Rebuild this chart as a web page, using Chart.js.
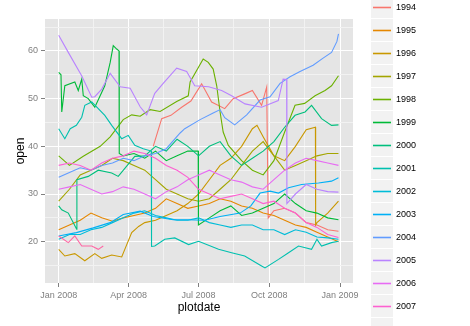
<!DOCTYPE html>
<html>
<head>
<meta charset="utf-8">
<script src="https://cdn.jsdelivr.net/npm/chart.js@4/dist/chart.umd.min.js"></script>
<style>
    html, body { margin: 0; padding: 0; background: #fff; overflow: hidden; }
    #chart { display: block; }
</style>
</head>
<body>
<canvas id="chart" width="470" height="326"></canvas>
<script>
// ==================== DATA ====================
// x values are day of year 2008 (0 = 1 Jan 2008)
const years = ['1994', '1995', '1996', '1997', '1998', '1999', '2000', '2001', '2002', '2003', '2004', '2005', '2006', '2007', '2008'];
const yearColors = ['#F8766D', '#E58700', '#C99800', '#A3A500', '#6BB100', '#00BA38', '#00BF7D', '#00C0AF', '#00BCD8', '#00B0F6', '#619CFF', '#B983FF', '#E76BF3', '#FD61D1', '#FF67A4'];

// two-week sampling for the lines that are hard to follow
const gridDays = [0, 14, 28, 42, 56, 70, 84, 98, 112, 126, 140, 154, 168, 182, 196, 210, 224, 238, 252, 266, 280, 294, 308, 322, 336, 350, 364];

const day1994 = [123, 134, 146, 160, 172, 186, 199, 216, 227, 242, 252, 264, 270.6, 272.6, 280, 294, 308, 322, 336, 350, 364];
const open1994 = [40, 45.8, 46.5, 48.2, 49.5, 53.1, 49.3, 47.9, 50, 51, 51.7, 48.6, 52.4, 25, 26.5, 27, 26, 24, 23.5, 22.5, 22.2];

const day1995 = gridDays;
const open1995 = [22.5, 23.5, 24.5, 26, 25, 24.3, 25, 25.5, 26, 27, 29, 28, 27, 27.5, 28, 29, 28.5, 27.5, 27, 26, 25.5, 24.5, 23.5, 23, 22, 21, 20];

const day1996 = [0, 8, 21, 34, 47, 56, 69, 82, 86, 95, 104, 112, 126, 140, 154, 168, 182, 196, 210, 224, 238, 252, 258, 266, 280, 294, 308, 322, 334, 334.3, 336, 350, 364];
const open1996 = [18.4, 17, 17.5, 16, 17.5, 16.5, 17.2, 16.8, 18.4, 21.9, 23.2, 24, 24.5, 25.5, 26.5, 28, 30, 33, 36, 37.5, 40, 43.7, 44.4, 42, 38, 37, 40, 43.5, 44, 23.5, 24, 26, 28.5];

const day1997 = gridDays;
const open1997 = [28.5, 31, 34, 35, 36, 37.5, 37, 36, 35, 33, 31, 30, 29, 28.5, 29, 31, 33, 36, 39, 41, 38, 35, 36, 37, 38, 38.5, 38.5];

const day1998 = [0, 14, 32, 54, 67, 84, 95, 106, 119, 132, 153.5, 168.6, 171, 188, 194.6, 201, 205.6, 210, 214, 220.7, 238, 252, 266, 280, 294, 307.5, 320, 333.5, 346.5, 355, 364];
const open1998 = [38, 36, 37.9, 40, 42, 45.6, 46.6, 46.3, 47.7, 47.3, 49.4, 50.6, 53.5, 58.3, 57.6, 56.2, 52.7, 47.2, 43, 40.2, 37, 35, 34, 37, 43, 48.6, 49, 50.6, 51.7, 52.7, 54.8];

const day1999 = [0, 3, 4, 8, 21, 25.5, 30, 32, 38.5, 47, 60, 67, 71, 75.5, 78.5, 78.8, 84, 98, 112, 126, 140, 154, 168, 181.5, 181.8, 196, 210, 224, 238, 252, 266, 280, 294, 308, 322, 336, 350, 364];
const open1999 = [55.5, 55, 47.2, 52.7, 53.5, 51.7, 54.1, 50.6, 50, 48.2, 52.7, 57.6, 61.1, 60.4, 60, 38.5, 38, 38.5, 37.5, 39, 37, 38, 39, 39, 23.5, 25, 26.5, 27.5, 25.5, 26, 27, 28, 30, 28, 26.5, 26, 25, 24.6];

const day2000 = [0, 4, 12.5, 23.4, 23.7, 38.5, 51.5, 69, 77.5, 99, 112, 126, 140, 154, 168, 182, 196, 210, 224, 238, 252, 266, 280, 294, 307.5, 320.5, 329, 342, 355, 364];
const open2000 = [27.5, 26.7, 26, 22.6, 33, 33.7, 35, 34.4, 33.7, 37.9, 38, 40, 39, 41.5, 40, 38, 40, 41, 38, 36, 37.5, 39, 41, 44, 46.5, 47.2, 48.6, 45.8, 44.4, 44.5];

const day2001 = [0, 8, 15, 23, 30, 34, 43, 51.5, 60, 69, 82, 90.5, 99, 110, 120.5, 120.8, 125, 138, 151, 169, 182, 208, 225, 242, 264, 268.4, 286, 299, 312, 329, 336, 342, 355, 364];
const open2001 = [43.7, 41.6, 43.7, 44.4, 46.1, 48.6, 49.3, 47.9, 46.5, 44.4, 41.6, 42.3, 40.2, 39.5, 39, 19, 19.1, 20.5, 20.8, 19.4, 20.1, 18.4, 17.7, 17, 14.9, 14.5, 16.3, 17.7, 19.1, 18.4, 20.5, 19.1, 19.8, 20.1];

const day2002 = gridDays;
const open2002 = [20.5, 21.5, 21.5, 22.5, 23, 24, 25, 26, 26.5, 25.5, 25, 24.5, 24.5, 25, 24, 23.5, 23, 23.5, 23.5, 22.5, 22.5, 21.5, 22.5, 22, 21, 20.8, 20.5];

const day2003 = [0, 23, 45, 67, 84, 106, 123, 149, 166.5, 190, 210, 236, 250, 262, 275, 286, 299, 316, 338, 355, 364];
const open2003 = [21.2, 21.9, 22.9, 24, 25.7, 26.4, 25.3, 24.6, 24.6, 24.5, 25.3, 26, 27.5, 30.2, 30.6, 30.2, 31.3, 32, 32.3, 32.7, 33.4];

const day2004 = [0, 14, 28, 42, 56, 70, 84, 98, 112, 126, 140, 158, 164, 184, 201, 210, 216, 229, 244.6, 262, 275, 288, 301, 314, 331, 344, 355, 362, 364];
const open2004 = [33.5, 34.5, 35.5, 35, 36, 36.5, 37.5, 37, 38, 38.5, 39.5, 42.8, 43.7, 45.6, 47, 47.7, 46, 44.5, 46.6, 49.7, 50.4, 53.2, 54.6, 55.7, 57, 58.5, 59.7, 62, 63.6];

const day2005 = [0, 12.5, 29.9, 43, 47, 56, 67, 80, 93, 106, 114.5, 125, 136, 153.5, 166.5, 177, 195, 212, 225, 242.4, 264, 285.7, 292, 296.6, 296.9, 308, 322, 336, 350, 364];
const open2005 = [63.3, 59.7, 54.8, 50.3, 50.4, 52, 55.3, 52.5, 52.2, 48.3, 46.6, 51.1, 53.2, 56.4, 55.7, 52.7, 52.5, 51.7, 50.6, 48.9, 48.2, 49.6, 54.1, 54, 28, 30, 32, 31, 30.5, 30.4];

const day2006 = gridDays;
const open2006 = [31, 31.5, 32, 31, 30, 30.5, 31.5, 31, 30, 29, 30.5, 31.5, 33, 34, 35, 34, 33, 32.5, 31.5, 31, 33, 35, 36.5, 37.5, 37, 36.5, 36];

const day2007 = gridDays;
const open2007 = [36, 36.5, 36, 35, 36.5, 37.5, 38, 39, 38.5, 37.5, 36, 35, 33.5, 31, 30, 29, 29.5, 30, 29, 28, 28.5, 27, 26, 24, 23, 21.5, 20.9];

const day2008 = [0, 12.5, 21, 30, 43, 51.5, 58];
const open2008 = [21.2, 19.8, 21.2, 19.1, 19.1, 18.4, 19.1];

const daysByYear = [day1994, day1995, day1996, day1997, day1998, day1999, day2000, day2001, day2002, day2003, day2004, day2005, day2006, day2007, day2008];
const openByYear = [open1994, open1995, open1996, open1997, open1998, open1999, open2000, open2001, open2002, open2003, open2004, open2005, open2006, open2007, open2008];

// x axis breaks
const xTickDays = [0, 91, 182, 274, 366];
const xTickLabels = ['Jan 2008', 'Apr 2008', 'Jul 2008', 'Oct 2008', 'Jan 2009'];
const xMinorDays = [45.5, 136.5, 228, 320];

const FONT = '"Liberation Sans", Arial, sans-serif';

// ==================== BUILD SERIES ====================
const datasets = years.map((year, i) => ({
    label: year,
    data: daysByYear[i].map((d, k) => ({ x: d, y: openByYear[i][k] })),
    borderColor: yearColors[i],
    backgroundColor: yearColors[i],
    borderWidth: 1.1,
    pointRadius: 0,
    tension: 0,
    fill: false,
    order: years.length - i
}));

// ==================== PANEL BACKGROUND ====================
const panelBackground = {
    id: 'panelBackground',
    beforeDraw(chart) {
        const { ctx, chartArea: a } = chart;
        ctx.save();
        ctx.fillStyle = '#E5E5E5';
        ctx.fillRect(a.left, a.top, a.right - a.left, a.bottom - a.top);
        ctx.restore();
    }
};

// ==================== LEGEND (ggplot style keys) ====================
const keyLegend = {
    id: 'keyLegend',
    afterDraw(chart) {
        const ctx = chart.ctx;
        const left = 371, top0 = -4, step = 23;
        ctx.save();
        chart.data.datasets.forEach((ds, i) => {
            const top = top0 + i * step;
            ctx.fillStyle = '#F2F2F2';
            ctx.fillRect(left, top, 22, 22);
            ctx.strokeStyle = ds.borderColor;
            ctx.lineWidth = 1.6;
            ctx.beginPath();
            ctx.moveTo(left + 2, top + 11.5);
            ctx.lineTo(left + 20, top + 11.5);
            ctx.stroke();
            ctx.fillStyle = '#000';
            ctx.font = '9px ' + FONT;
            ctx.textBaseline = 'middle';
            ctx.textAlign = 'left';
            ctx.fillText(ds.label, left + 25, top + 12);
        });
        ctx.restore();
    }
};

// ==================== CHART ====================
const ctx = document.getElementById('chart').getContext('2d');
new Chart(ctx, {
    type: 'line',
    data: { datasets: datasets },
    options: {
        responsive: false,
        animation: false,
        layout: { padding: { top: 19, right: 117, bottom: 0, left: 0 } },
        plugins: { legend: { display: false }, tooltip: { enabled: false } },
        scales: {
            x: {
                type: 'linear',
                min: -17.8,
                max: 382.9,
                border: { display: false },
                afterBuildTicks: scale => {
                    scale.ticks = xTickDays.concat(xMinorDays).sort((a, b) => a - b).map(v => ({ value: v }));
                },
                afterFit: scale => { scale.height = 43; },
                grid: {
                    color: c => (c.tick && xTickDays.includes(c.tick.value)) ? '#FFFFFF' : '#F2F2F2',
                    tickColor: c => (c.tick && xTickDays.includes(c.tick.value)) ? '#7F7F7F' : 'rgba(0,0,0,0)',
                    tickLength: 4,
                    lineWidth: 1
                },
                ticks: {
                    autoSkip: false,
                    maxRotation: 0,
                    padding: 3,
                    color: '#7F7F7F',
                    font: { family: FONT, size: 9 },
                    callback: v => {
                        const idx = xTickDays.indexOf(v);
                        return idx >= 0 ? xTickLabels[idx] : '';
                    }
                },
                title: {
                    display: true,
                    text: 'plotdate',
                    color: '#000',
                    font: { family: FONT, size: 12 },
                    padding: { top: 0, bottom: 11 }
                }
            },
            y: {
                min: 11.34,
                max: 66.7,
                border: { display: false },
                afterFit: scale => { scale.width = 45; },
                grid: {
                    color: c => (c.tick && c.tick.value % 10 === 0) ? '#FFFFFF' : '#F2F2F2',
                    tickColor: c => (c.tick && c.tick.value % 10 === 0) ? '#7F7F7F' : 'rgba(0,0,0,0)',
                    tickLength: 4,
                    lineWidth: 1
                },
                ticks: {
                    stepSize: 5,
                    includeBounds: false,
                    padding: 3,
                    color: '#7F7F7F',
                    font: { family: FONT, size: 9 },
                    callback: v => (v % 10 === 0 ? String(v) : '')
                },
                title: {
                    display: true,
                    text: 'open',
                    color: '#000',
                    font: { family: FONT, size: 12 },
                    padding: { top: 13, bottom: 0 }
                }
            }
        }
    },
    plugins: [panelBackground, keyLegend]
});
</script>
</body>
</html>
